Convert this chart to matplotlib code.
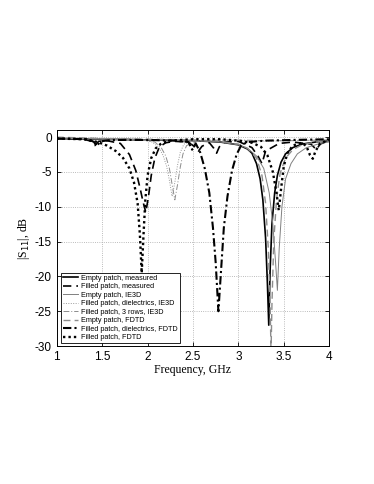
import matplotlib
matplotlib.use("Agg")
import matplotlib.pyplot as plt

# Empty patch, measured
empty_meas_f = [1.0, 1.5, 2.0, 2.5, 2.8, 3.0, 3.1, 3.15, 3.2, 3.24, 3.27, 3.3, 3.32, 3.335,
                3.35, 3.37, 3.4, 3.43, 3.47, 3.52, 3.6, 3.7, 3.85, 4.0]
empty_meas_s = [-0.2, -0.3, -0.4, -0.5, -0.7, -1.1, -1.7, -2.3, -3.8, -6.0, -9.0, -14.5, -21.0, -27.0,
                -19.0, -12.5, -8.0, -5.5, -3.6, -2.4, -1.5, -1.0, -0.7, -0.5]

# Filled patch, measured
filled_meas_f = [1.0, 1.3, 1.38, 1.42, 1.46, 1.55, 1.7, 1.8, 1.87, 1.92, 1.95, 1.98, 2.01, 2.04,
                 2.08, 2.13, 2.2, 2.3, 2.45, 2.52, 2.56, 2.6, 2.68, 2.73, 2.76, 2.79, 2.85, 3.0,
                 3.15, 3.22, 3.26, 3.3, 3.45, 3.6, 3.8, 3.86, 3.9, 4.0]
filled_meas_s = [-0.2, -0.3, -0.6, -1.2, -0.6, -0.5, -0.9, -2.5, -4.8, -7.5, -9.3, -10.8, -8.5, -5.5,
                 -3.0, -1.4, -0.8, -0.6, -0.7, -1.4, -2.0, -1.3, -0.8, -1.6, -2.3, -1.4, -0.7, -0.6,
                 -1.5, -2.8, -3.8, -2.0, -0.9, -0.7, -1.0, -1.8, -1.0, -0.5]

# Empty patch, IE3D
empty_ie3d_f = [1.0, 1.5, 2.0, 2.5, 2.8, 3.0, 3.1, 3.2, 3.28, 3.34, 3.38, 3.41, 3.43, 3.45,
                3.48, 3.52, 3.58, 3.65, 3.75, 3.9, 4.0]
empty_ie3d_s = [-0.2, -0.3, -0.4, -0.5, -0.7, -1.1, -1.6, -2.7, -4.5, -8.0, -12.5, -18.0, -22.0, -16.0,
                -10.0, -6.0, -3.8, -2.4, -1.5, -0.9, -0.7]

# Filled patch, dielectrics, IE3D
diel_ie3d_f = [1.0, 1.5, 1.9, 2.05, 2.12, 2.17, 2.21, 2.24, 2.27, 2.3, 2.33, 2.36, 2.4, 2.5,
               2.8, 3.0, 3.3, 3.6, 4.0]
diel_ie3d_s = [-0.1, -0.2, -0.3, -0.7, -1.4, -2.6, -4.2, -6.2, -8.5, -6.5, -4.0, -2.2, -1.0, -0.5,
               -0.4, -0.5, -0.6, -0.5, -0.4]

# Filled patch, 3 rows, IE3D
rows_ie3d_f = [1.0, 1.5, 1.9, 2.08, 2.15, 2.2, 2.24, 2.27, 2.30, 2.33, 2.36, 2.39, 2.43, 2.55,
               2.8, 3.0, 3.3, 3.6, 4.0]
rows_ie3d_s = [-0.1, -0.2, -0.3, -0.7, -1.5, -2.7, -4.5, -6.8, -9.0, -6.8, -4.3, -2.4, -1.2, -0.6,
               -0.4, -0.4, -0.5, -0.5, -0.4]

# Empty patch, FDTD
empty_fdtd_f = [1.0, 1.5, 2.0, 2.5, 2.8, 3.0, 3.1, 3.2, 3.26, 3.3, 3.33, 3.35, 3.36, 3.37,
                3.39, 3.42, 3.46, 3.52, 3.6, 3.7, 3.85, 4.0]
empty_fdtd_s = [0.0, -0.2, -0.3, -0.4, -0.6, -1.0, -1.6, -3.0, -5.5, -9.5, -16.0, -24.0, -31.0, -24.0,
                -15.0, -9.0, -5.2, -3.0, -1.8, -1.1, -0.7, -0.5]

# Filled patch, dielectrics, FDTD
diel_fdtd_f = [1.0, 1.35, 1.41, 1.44, 1.48, 1.6, 2.0, 2.3, 2.45, 2.49, 2.53, 2.58, 2.63, 2.68,
               2.72, 2.75, 2.78, 2.81, 2.84, 2.88, 2.93, 2.98, 3.03, 3.1, 3.3, 3.6, 4.0]
diel_fdtd_s = [-0.2, -0.3, -0.7, -1.3, -0.6, -0.4, -0.4, -0.5, -0.7, -1.8, -0.9, -2.2, -4.5, -8.0,
               -13.0, -18.0, -25.0, -19.0, -13.0, -8.5, -4.8, -2.5, -1.2, -0.7, -0.5, -0.4, -0.3]

# Filled patch, FDTD
filled_fdtd_f = [1.0, 1.3, 1.45, 1.55, 1.65, 1.73, 1.8, 1.85, 1.89, 1.915, 1.935, 1.955, 1.975, 2.0,
                 2.04, 2.09, 2.15, 2.25, 2.5, 2.8, 3.0, 3.15, 3.25, 3.32, 3.38, 3.42, 3.445, 3.47,
                 3.5, 3.54, 3.6, 3.7, 3.75, 3.79, 3.82, 3.85, 3.9, 4.0]
filled_fdtd_s = [-0.2, -0.3, -0.7, -1.2, -2.0, -3.0, -4.5, -6.5, -9.5, -14.0, -19.5, -14.0, -9.0, -5.5,
                 -3.0, -1.6, -0.9, -0.5, -0.3, -0.3, -0.5, -0.8, -1.4, -2.6, -5.0, -8.0, -10.5, -7.5,
                 -4.2, -2.3, -1.2, -0.8, -1.3, -2.6, -3.1, -2.0, -0.9, -0.4]

labels = ['Empty patch, measured', 'Filled patch, measured', 'Empty patch, IE3D',
          'Filled patch, dielectrics, IE3D', 'Filled patch, 3 rows, IE3D', 'Empty patch, FDTD',
          'Filled patch, dielectrics, FDTD', 'Filled patch, FDTD']

fig = plt.figure(figsize=(3.74, 4.84), dpi=100)
ax = fig.add_axes([0.152, 0.285, 0.728, 0.446])

ax.plot(empty_meas_f, empty_meas_s, color='black', lw=1.2, ls='-', label=labels[0])
ax.plot(filled_meas_f, filled_meas_s, color='black', lw=1.2, ls=(0, (5, 3)), label=labels[1])
ax.plot(empty_ie3d_f, empty_ie3d_s, color='0.5', lw=0.7, ls='-', label=labels[2])
ax.plot(diel_ie3d_f, diel_ie3d_s, color='0.6', lw=0.7, ls=(0, (1, 1.5)), label=labels[3])
ax.plot(rows_ie3d_f, rows_ie3d_s, color='0.55', lw=0.7, ls=(0, (6, 2, 1, 2)), label=labels[4])
ax.plot(empty_fdtd_f, empty_fdtd_s, color='0.55', lw=1.0, ls=(0, (5, 3)), label=labels[5])
ax.plot(diel_fdtd_f, diel_fdtd_s, color='black', lw=1.5, ls=(0, (4, 1.5, 1, 1.5)), label=labels[6])
ax.plot(filled_fdtd_f, filled_fdtd_s, color='black', lw=1.7, ls=(0, (1, 1.3)), label=labels[7])

ax.set_xlim(1, 4)
ax.set_ylim(-30, 1)
ax.set_xticks([1, 1.5, 2, 2.5, 3, 3.5, 4])
ax.set_xticklabels(['1', '1.5', '2', '2.5', '3', '3.5', '4'])
ax.set_yticks([0, -5, -10, -15, -20, -25, -30])
ax.set_yticklabels(['0', '-5', '-10', '-15', '-20', '-25', '-30'])
ax.tick_params(direction='in', top=True, right=True, labelsize=8.5, length=3, width=0.6)
for lab in ax.get_xticklabels() + ax.get_yticklabels():
    lab.set_family('Liberation Sans')
ax.grid(True, ls=':', color='0.65', lw=0.6)
for sp in ax.spines.values():
    sp.set_linewidth(0.7)

ax.set_xlabel('Frequency, GHz', family='Liberation Serif', fontsize=8.5, labelpad=1)
ax.set_ylabel('|S$_{11}$|, dB', family='Liberation Serif', fontsize=8.5, labelpad=2)

leg = ax.legend(loc='lower left', bbox_to_anchor=(0.015, 0.012), borderaxespad=0,
                prop={'family': 'Liberation Sans', 'size': 5.2}, fancybox=False,
                edgecolor='black', framealpha=1, handlelength=2.0, handletextpad=0.5,
                labelspacing=0.2, borderpad=0.3)
leg.get_frame().set_linewidth(0.6)

fig.savefig('out.png', dpi=100)
